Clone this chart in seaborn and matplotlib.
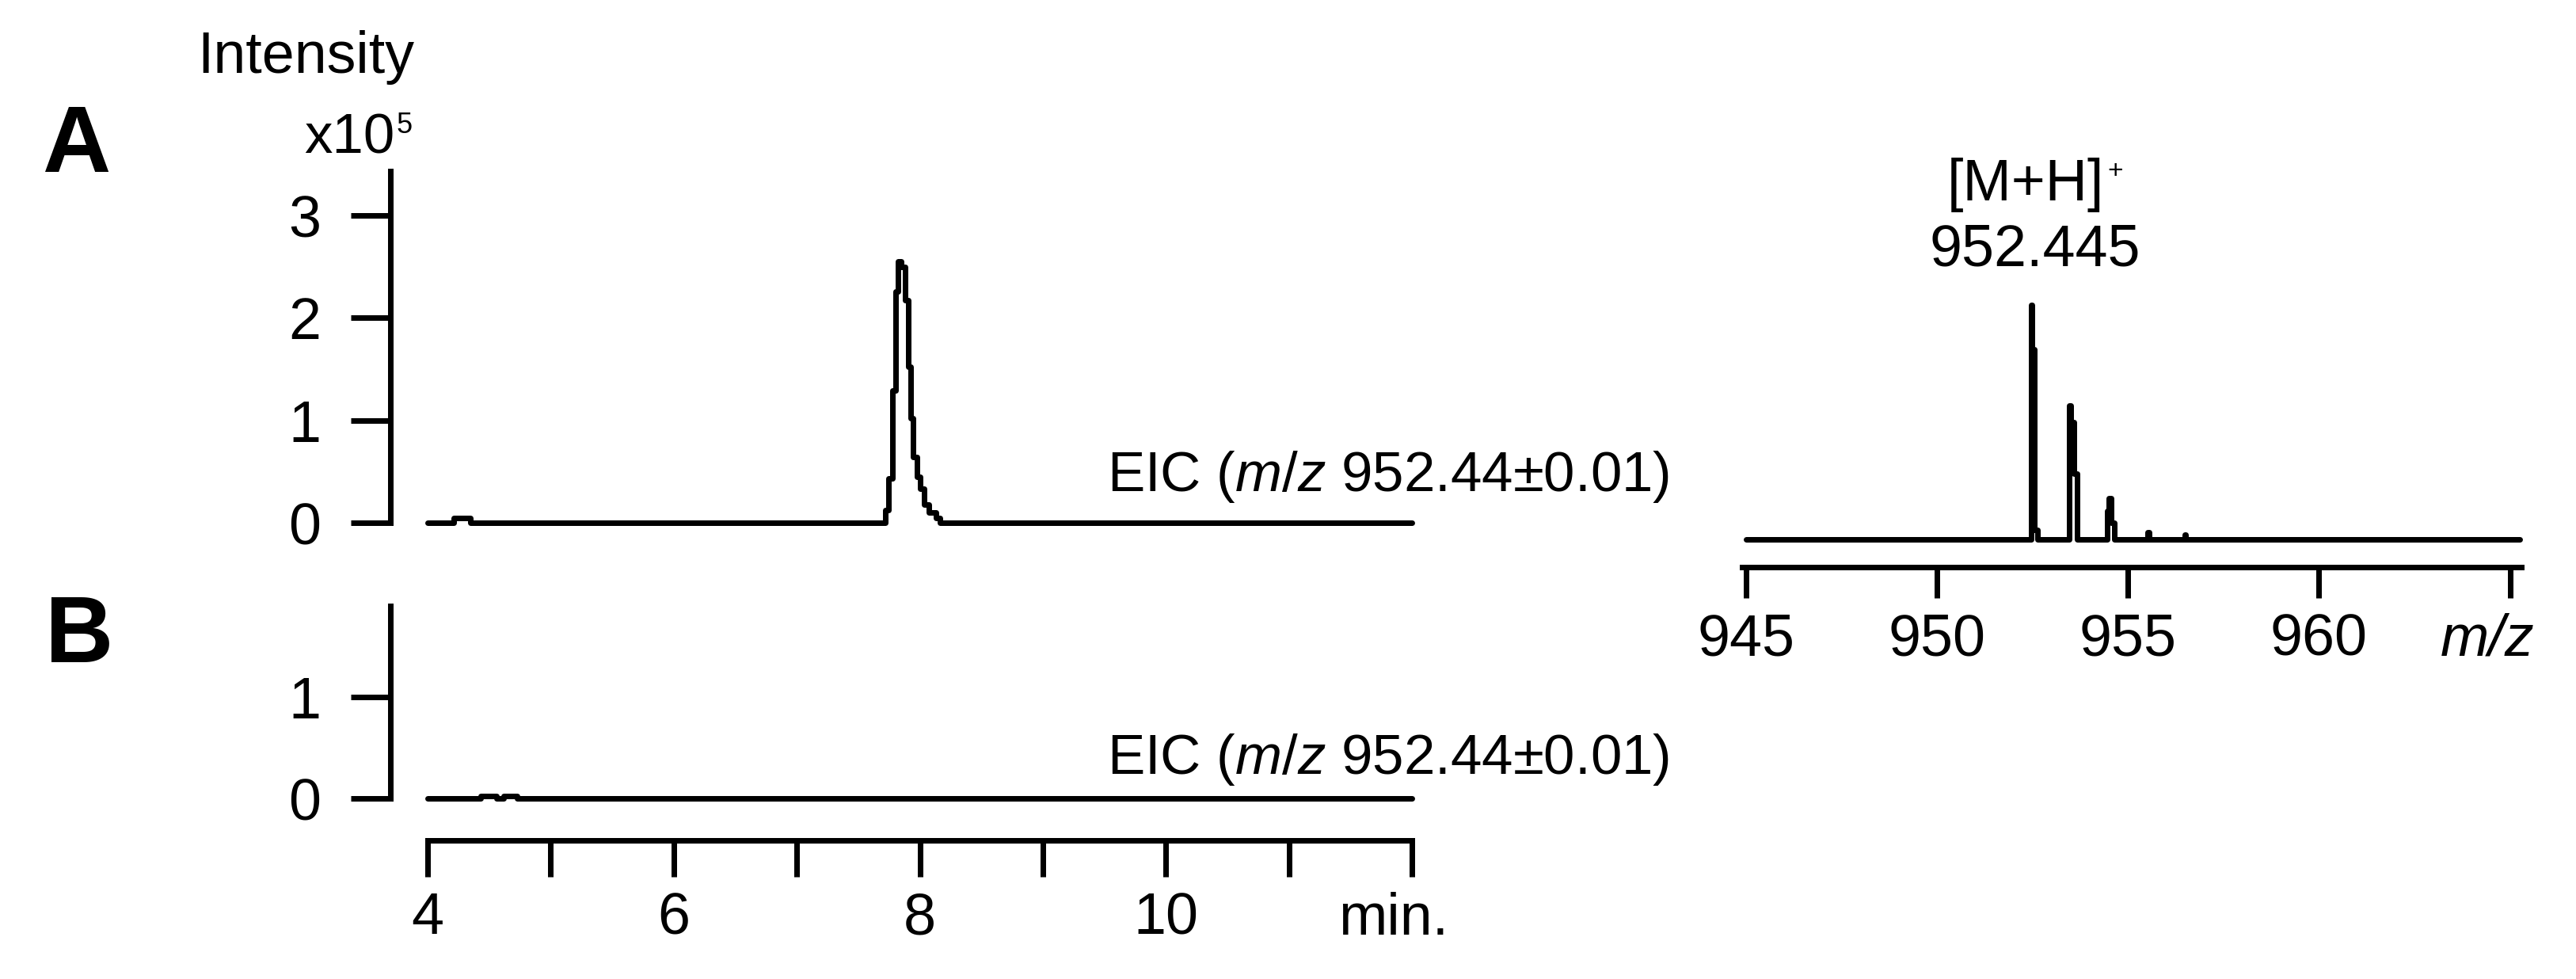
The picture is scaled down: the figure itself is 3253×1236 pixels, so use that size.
import matplotlib
matplotlib.use('Agg')
import matplotlib.pyplot as plt
import seaborn as sns

# EIC trace A (retention time in min, intensity x10^5), stepwise scans
eic_a_time = [4.0, 4.21, 4.35, 7.721, 7.743, 7.775, 7.801, 7.823, 7.85, 7.882,
              7.904, 7.925, 7.947, 7.979, 8.001, 8.033, 8.075, 8.129, 8.161, 12.0]
eic_a_int = [0, 0.05, 0, 0.12, 0.43, 1.29, 2.26, 2.55, 2.50, 2.17,
             1.52, 1.02, 0.64, 0.45, 0.33, 0.18, 0.10, 0.05, 0, 0]

# EIC trace B (same m/z window, nothing found)
eic_b_time = [4.0, 4.43, 4.56, 4.62, 4.73, 12.0]
eic_b_int = [0, 0.025, 0, 0.025, 0, 0]

# mass spectrum at the peak (relative intensity)
ms_mz = [945.0, 952.47, 952.49, 952.56, 952.64, 953.46, 953.50, 953.58, 953.66,
         954.45, 954.49, 954.57, 954.64, 955.52, 955.56, 956.48, 956.52, 965.25]
ms_int = [0, 100, 81, 4, 0, 57, 50, 28, 0,
          12, 17.6, 7, 0, 3, 0, 1.8, 0, 0]

time_ticks = [4, 5, 6, 7, 8, 9, 10, 11, 12]
time_labels = ['4', '', '6', '', '8', '', '10', '', '']
a_yticks = [0, 1, 2, 3]
b_yticks = [0, 1]
mz_ticks = [945, 950, 955, 960, 965]
mz_labels = ['945', '950', '955', '960', '']

eic_label = r'EIC ($\mathit{m/z}$ 952.44±0.01)'

sns.set_style('ticks')
plt.rcParams['font.family'] = ['Liberation Sans', 'DejaVu Sans']
plt.rcParams['mathtext.fontset'] = 'custom'
plt.rcParams['mathtext.rm'] = 'Liberation Sans'
plt.rcParams['mathtext.it'] = 'Liberation Sans:italic'
plt.rcParams.update({'axes.edgecolor': 'black', 'xtick.color': 'black',
                     'ytick.color': 'black', 'text.color': 'black'})

W, H = 3253, 1236
DPI = 200
fig = plt.figure(figsize=(W / DPI, H / DPI), dpi=DPI)


def box(left, top, right, bottom):
    return [left / W, 1 - bottom / H, (right - left) / W, (bottom - top) / H]


def pt(px):
    return px * 72 / DPI


def ptxt(x, y, s, **kw):
    fig.text(x / W, 1 - y / H, s, va='baseline', **kw)


LW = pt(7)
FS = 26.5

ax_a = fig.add_axes(box(540, 216.5, 1783, 660))
ax_b = fig.add_axes(box(540, 764.5, 1783, 1008))
ax_ms = fig.add_axes(box(2200, 385.2, 3184, 680.7))

sns.lineplot(x=eic_a_time, y=eic_a_int, ax=ax_a, color='black', lw=LW,
             drawstyle='steps-post', clip_on=False)
sns.lineplot(x=eic_b_time, y=eic_b_int, ax=ax_b, color='black', lw=LW,
             drawstyle='steps-post', clip_on=False)
sns.lineplot(x=ms_mz, y=ms_int, ax=ax_ms, color='black', lw=LW,
             drawstyle='steps-post', clip_on=False)

# chromatograms
for ax in (ax_a, ax_b):
    ax.set_xlim(4, 12)
    ax.set_xlabel('')
    ax.set_ylabel('')
    ax.spines['left'].set_position(('outward', pt(47)))
    ax.tick_params(axis='y', length=pt(50), width=LW, pad=pt(38), labelsize=FS)

ax_a.set_ylim(0, 3.43)
ax_a.set_yticks(a_yticks)
ax_a.set_xticks([])
sns.despine(ax=ax_a, bottom=True)
ax_a.spines['left'].set_linewidth(LW)

ax_b.set_ylim(0, 1.90)
ax_b.set_yticks(b_yticks)
ax_b.set_xticks(time_ticks)
ax_b.set_xticklabels(time_labels)
sns.despine(ax=ax_b)
ax_b.spines['bottom'].set_position(('outward', pt(53)))
for sp in ('left', 'bottom'):
    ax_b.spines[sp].set_linewidth(LW)
ax_b.tick_params(axis='x', length=pt(46), width=LW, pad=pt(18), labelsize=FS)

# spectrum
ax_ms.set_xlim(944.9, 965.3)
ax_ms.set_ylim(0, 100)
ax_ms.set_yticks([])
ax_ms.set_xticks(mz_ticks)
ax_ms.set_xticklabels(mz_labels)
ax_ms.set_xlabel('')
sns.despine(ax=ax_ms, left=True)
ax_ms.spines['bottom'].set_position(('outward', pt(35.5)))
ax_ms.spines['bottom'].set_linewidth(LW)
ax_ms.tick_params(axis='x', length=pt(39), width=LW, pad=pt(18), labelsize=FS)

# texts
ptxt(249, 92, 'Intensity', fontsize=FS, ha='left')
ptxt(498, 194, 'x10', fontsize=25.5, ha='right')
ptxt(501, 168, '5', fontsize=13, ha='left')
ptxt(53, 217, 'A', fontsize=43, fontweight='bold', ha='left')
ptxt(57, 836, 'B', fontsize=43, fontweight='bold', ha='left')
ptxt(2108, 620, eic_label, fontsize=25.5, ha='right')
ptxt(2108, 977, eic_label, fontsize=25.5, ha='right')
ptxt(1690, 1180, 'min.', fontsize=FS, ha='left')
ptxt(2459, 253, '[M+H]', fontsize=FS, ha='left')
ptxt(2661, 225, '+', fontsize=12, ha='left')
ptxt(2569.5, 336, '952.445', fontsize=FS, ha='center')
ptxt(3082, 827, 'm/z', fontsize=FS, style='italic', ha='left')

fig.savefig('out.png', dpi=DPI, facecolor='white')
